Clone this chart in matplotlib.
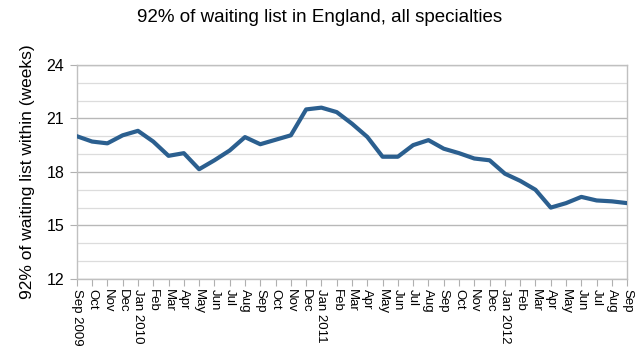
import numpy as np
import matplotlib
matplotlib.use("Agg")
from matplotlib import pyplot as plt
from matplotlib.ticker import MultipleLocator

plt.rcParams['font.family'] = ['Liberation Sans', 'DejaVu Sans']

# months from Sep 2009 to Sep 2012
months = ["Sep 2009", "Oct", "Nov", "Dec", "Jan 2010", "Feb", "Mar", "Apr", "May",
          "Jun", "Jul", "Aug", "Sep", "Oct", "Nov", "Dec", "Jan 2011", "Feb", "Mar",
          "Apr", "May", "Jun", "Jul", "Aug", "Sep", "Oct", "Nov", "Dec", "Jan 2012",
          "Feb", "Mar", "Apr", "May", "Jun", "Jul", "Aug", "Sep"]
weeks = [20.0, 19.7, 19.6, 20.05, 20.3, 19.7, 18.9, 19.05, 18.15,
         18.65, 19.2, 19.95, 19.55, 19.8, 20.05, 21.5, 21.6, 21.35, 20.7,
         19.96, 18.85, 18.85, 19.5, 19.78, 19.3, 19.05, 18.75, 18.65, 17.9,
         17.5, 17.0, 16.0, 16.25, 16.6, 16.4, 16.35, 16.25]

fig = plt.figure(figsize=(6.4, 3.6), dpi=100)
ax = fig.add_axes([0.12, 0.225, 0.86, 0.595])

x = np.arange(len(months))
ax.plot(x, weeks, color='#2b5f8f', lw=3.0, solid_joinstyle='round',
        solid_capstyle='round', zorder=3)

ax.set_xlim(0, len(months) - 1)
ax.set_ylim(12, 24)
ax.yaxis.set_major_locator(MultipleLocator(3))
ax.yaxis.set_minor_locator(MultipleLocator(1))
ax.grid(which='major', axis='y', color='#b8b8b8', lw=1.0)
ax.grid(which='minor', axis='y', color='#dcdcdc', lw=0.9)
ax.set_axisbelow(True)

ax.set_xticks(x)
ax.set_xticklabels(months, rotation=-90, fontsize=9.5, va='top', ha='center')
ax.tick_params(axis='x', length=5, color='#b0b0b0', pad=2)
ax.tick_params(axis='y', which='major', length=5, color='#b0b0b0',
               labelsize=11.5, pad=4)
ax.tick_params(axis='y', which='minor', length=0)

for s in ax.spines.values():
    s.set_color('#c0c0c0')
    s.set_linewidth(1.0)

ax.set_ylabel("92% of waiting list within (weeks)", fontsize=12.5, labelpad=8)
fig.text(0.5, 0.952, "92% of waiting list in England, all specialties",
         ha='center', va='center', fontsize=13.5)

fig.savefig("out.png", dpi=100)
